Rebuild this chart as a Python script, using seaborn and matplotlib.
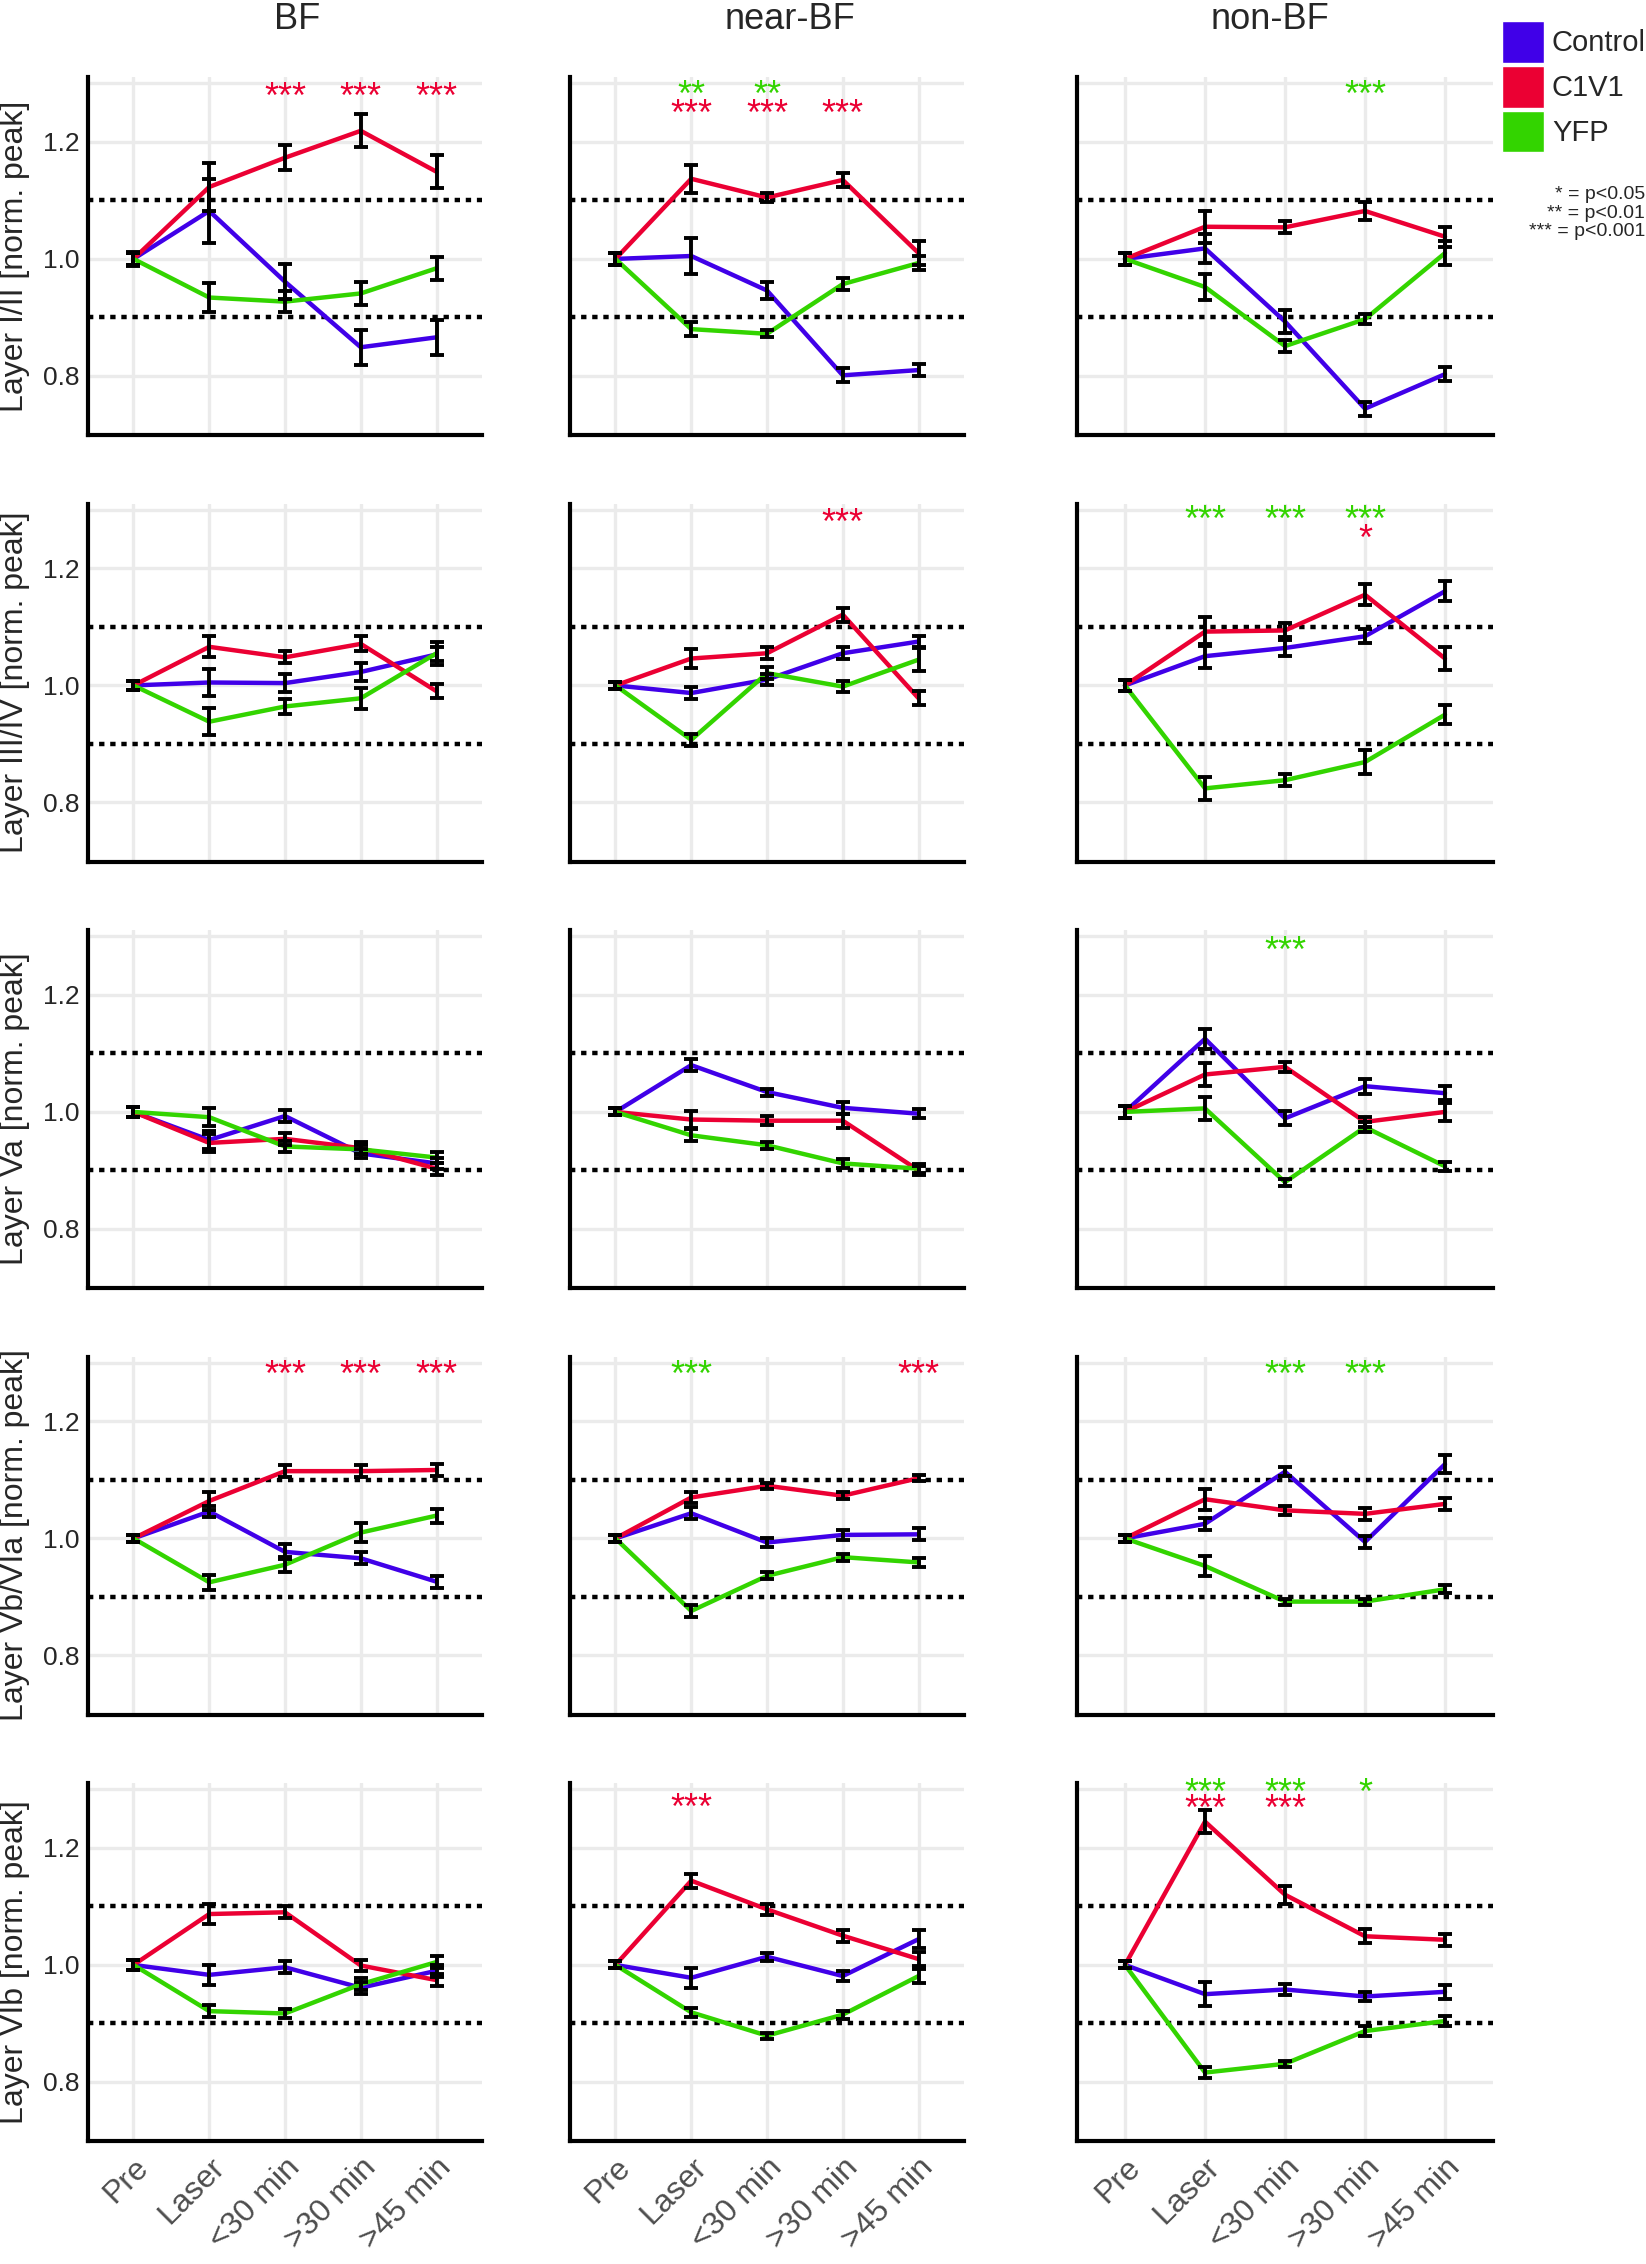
"""Normalized peak responses per cortical layer after laser stimulation (BF / near-BF / non-BF)"""
import matplotlib
matplotlib.use("Agg")
import matplotlib.pyplot as plt
from matplotlib.patches import Patch
import numpy as np
import pandas as pd
import seaborn as sns


TIMEPOINTS = ['Pre', 'Laser', '<30 min', '>30 min', '>45 min']
REGIONS = ['BF', 'near-BF', 'non-BF']
LAYERS = ['Layer I/II [norm. peak]',
          'Layer III/IV [norm. peak]',
          'Layer Va [norm. peak]',
          'Layer Vb/VIa [norm. peak]',
          'Layer VIb [norm. peak]']
GROUPS = ['Control', 'C1V1', 'YFP']
PALETTE = {'Control': '#4000E8', 'C1V1': '#EB0033', 'YFP': '#33D400'}

# [layer][region][timepoint]
CONTROL_MEAN = [
    [[1.0, 1.082, 0.961, 0.849, 0.866], [1.0, 1.005, 0.946, 0.801, 0.810], [1.0, 1.018, 0.893, 0.744, 0.803]],
    [[1.0, 1.005, 1.004, 1.023, 1.053], [1.0, 0.987, 1.010, 1.055, 1.075], [1.0, 1.050, 1.064, 1.084, 1.161]],
    [[1.0, 0.952, 0.993, 0.929, 0.912], [1.0, 1.080, 1.034, 1.007, 0.997], [1.0, 1.125, 0.989, 1.044, 1.032]],
    [[1.0, 1.046, 0.977, 0.966, 0.926], [1.0, 1.043, 0.993, 1.006, 1.007], [1.0, 1.025, 1.114, 0.994, 1.127]],
    [[1.0, 0.983, 0.996, 0.961, 0.990], [1.0, 0.978, 1.014, 0.981, 1.044], [1.0, 0.950, 0.958, 0.946, 0.954]],
]
CONTROL_SEM = [
    [[0.010, 0.055, 0.030, 0.030, 0.030], [0.010, 0.031, 0.014, 0.012, 0.010], [0.010, 0.025, 0.020, 0.012, 0.012]],
    [[0.008, 0.023, 0.015, 0.015, 0.012], [0.006, 0.010, 0.010, 0.010, 0.010], [0.010, 0.020, 0.013, 0.012, 0.017]],
    [[0.008, 0.015, 0.010, 0.008, 0.010], [0.006, 0.010, 0.006, 0.010, 0.008], [0.010, 0.017, 0.012, 0.013, 0.012]],
    [[0.006, 0.010, 0.013, 0.010, 0.010], [0.006, 0.010, 0.007, 0.008, 0.010], [0.006, 0.010, 0.008, 0.010, 0.015]],
    [[0.008, 0.017, 0.010, 0.010, 0.010], [0.006, 0.017, 0.007, 0.008, 0.015], [0.006, 0.020, 0.010, 0.008, 0.012]],
]
C1V1_MEAN = [
    [[1.0, 1.123, 1.173, 1.219, 1.149], [1.0, 1.137, 1.105, 1.135, 1.010], [1.0, 1.055, 1.054, 1.082, 1.038]],
    [[1.0, 1.066, 1.048, 1.071, 0.990], [1.0, 1.046, 1.055, 1.121, 0.978], [1.0, 1.092, 1.094, 1.155, 1.046]],
    [[1.0, 0.947, 0.954, 0.938, 0.903], [1.0, 0.987, 0.985, 0.985, 0.900], [1.0, 1.064, 1.077, 0.983, 1.000]],
    [[1.0, 1.064, 1.115, 1.115, 1.117], [1.0, 1.070, 1.090, 1.073, 1.103], [1.0, 1.067, 1.048, 1.042, 1.059]],
    [[1.0, 1.087, 1.090, 0.999, 0.974], [1.0, 1.144, 1.095, 1.050, 1.010], [1.0, 1.245, 1.120, 1.049, 1.043]],
]
C1V1_SEM = [
    [[0.012, 0.041, 0.021, 0.028, 0.028], [0.010, 0.024, 0.008, 0.012, 0.020], [0.010, 0.027, 0.010, 0.015, 0.017]],
    [[0.008, 0.018, 0.010, 0.013, 0.012], [0.006, 0.017, 0.010, 0.012, 0.012], [0.010, 0.025, 0.012, 0.018, 0.020]],
    [[0.008, 0.015, 0.010, 0.010, 0.010], [0.006, 0.015, 0.008, 0.012, 0.008], [0.010, 0.020, 0.008, 0.008, 0.015]],
    [[0.006, 0.015, 0.010, 0.010, 0.010], [0.006, 0.010, 0.005, 0.006, 0.005], [0.006, 0.018, 0.008, 0.010, 0.010]],
    [[0.008, 0.017, 0.010, 0.010, 0.010], [0.006, 0.012, 0.010, 0.010, 0.012], [0.006, 0.020, 0.015, 0.012, 0.010]],
]
YFP_MEAN = [
    [[1.0, 0.934, 0.927, 0.941, 0.984], [1.0, 0.880, 0.872, 0.957, 0.993], [1.0, 0.952, 0.851, 0.897, 1.010]],
    [[1.0, 0.938, 0.964, 0.978, 1.055], [1.0, 0.907, 1.021, 0.998, 1.044], [1.0, 0.824, 0.838, 0.869, 0.950]],
    [[1.0, 0.991, 0.941, 0.936, 0.922], [1.0, 0.960, 0.943, 0.912, 0.903], [1.0, 1.006, 0.880, 0.974, 0.907]],
    [[1.0, 0.925, 0.955, 1.010, 1.039], [1.0, 0.876, 0.936, 0.968, 0.959], [1.0, 0.953, 0.892, 0.892, 0.913]],
    [[1.0, 0.921, 0.917, 0.967, 1.005], [1.0, 0.919, 0.879, 0.915, 0.981], [1.0, 0.816, 0.831, 0.887, 0.904]],
]
YFP_SEM = [
    [[0.010, 0.025, 0.018, 0.020, 0.020], [0.010, 0.012, 0.006, 0.010, 0.012], [0.010, 0.022, 0.010, 0.008, 0.020]],
    [[0.008, 0.023, 0.013, 0.018, 0.020], [0.006, 0.010, 0.010, 0.010, 0.020], [0.010, 0.020, 0.010, 0.020, 0.016]],
    [[0.008, 0.015, 0.010, 0.008, 0.010], [0.006, 0.010, 0.006, 0.008, 0.008], [0.010, 0.020, 0.006, 0.008, 0.008]],
    [[0.006, 0.013, 0.013, 0.016, 0.012], [0.006, 0.010, 0.006, 0.006, 0.007], [0.006, 0.017, 0.005, 0.005, 0.007]],
    [[0.008, 0.010, 0.007, 0.010, 0.010], [0.006, 0.008, 0.005, 0.007, 0.012], [0.006, 0.010, 0.005, 0.008, 0.008]],
]

# significance marks: (layer, region, timepoint, text, group, y)
STARS = [
    (0, 0, 2, '***', 'C1V1', 1.293), (0, 0, 3, '***', 'C1V1', 1.293), (0, 0, 4, '***', 'C1V1', 1.293),
    (0, 1, 1, '**', 'YFP', 1.297), (0, 1, 2, '**', 'YFP', 1.297),
    (0, 1, 1, '***', 'C1V1', 1.264), (0, 1, 2, '***', 'C1V1', 1.264), (0, 1, 3, '***', 'C1V1', 1.264),
    (0, 2, 3, '***', 'YFP', 1.297),
    (1, 1, 3, '***', 'C1V1', 1.294),
    (1, 2, 1, '***', 'YFP', 1.299), (1, 2, 2, '***', 'YFP', 1.299), (1, 2, 3, '***', 'YFP', 1.299),
    (1, 2, 3, '*', 'C1V1', 1.267),
    (2, 2, 2, '***', 'YFP', 1.292),
    (3, 0, 2, '***', 'C1V1', 1.297), (3, 0, 3, '***', 'C1V1', 1.297), (3, 0, 4, '***', 'C1V1', 1.297),
    (3, 1, 1, '***', 'YFP', 1.297), (3, 1, 4, '***', 'C1V1', 1.297),
    (3, 2, 2, '***', 'YFP', 1.297), (3, 2, 3, '***', 'YFP', 1.297),
    (4, 1, 1, '***', 'C1V1', 1.285), (4, 1, 2, '***', 'YFP', 1.315),
    (4, 2, 1, '***', 'YFP', 1.311), (4, 2, 2, '***', 'YFP', 1.311), (4, 2, 3, '*', 'YFP', 1.311),
    (4, 2, 1, '***', 'C1V1', 1.283), (4, 2, 2, '***', 'C1V1', 1.283),
]

GRID_COLOR = '#EBEBEB'
FIG_W, FIG_H = 1646, 2264
COL_LEFT = [88, 570, 1077]
COL_WIDTH = [394, 394, 416]
ROW_TOP = [77, 503.5, 930, 1356.5, 1783]
ROW_HEIGHT = 358


def panel_frame(layer, region):
    """Long dataframe of means/sem for one panel"""
    means = [CONTROL_MEAN, C1V1_MEAN, YFP_MEAN]
    sems = [CONTROL_SEM, C1V1_SEM, YFP_SEM]
    rows = []
    for grp, m, s in zip(GROUPS, means, sems):
        for i, tp in enumerate(TIMEPOINTS):
            rows.append({'group': grp, 'x': i, 'time': tp,
                         'value': m[layer][region][i], 'sem': s[layer][region][i]})
    return pd.DataFrame(rows)


def plot_panel(ax, layer, region):
    df = panel_frame(layer, region)
    ax.set_axisbelow(True)
    ax.grid(True, color=GRID_COLOR, lw=2.4)
    ax.axhline(1.3, color=GRID_COLOR, lw=2.4, zorder=0)
    for lev in (0.9, 1.1):
        ax.axhline(lev, color='black', lw=3.2, ls=(0, (1.2, 1.3)), zorder=1)
    sns.lineplot(data=df, x='x', y='value', hue='group', hue_order=GROUPS,
                 palette=PALETTE, lw=3.2, legend=False, errorbar=None,
                 sort=False, ax=ax, zorder=3)
    ax.errorbar(df['x'], df['value'], yerr=df['sem'], fmt='none',
                ecolor='black', elinewidth=2.8, capsize=5, capthick=2.8, zorder=4)
    for lay, reg, xi, txt, grp, y in STARS:
        if lay == layer and reg == region:
            ax.annotate(txt, xy=(xi, y), xytext=(0, -15), textcoords='offset points',
                        ha='center', va='baseline', fontsize=26, color=PALETTE[grp])

    ax.set_xlim(-0.6, 4.6)
    ax.set_ylim(0.699, 1.311)
    ax.set_xticks(range(len(TIMEPOINTS)))
    ax.set_yticks([0.8, 1.0, 1.2])
    ax.set_xlabel('')
    ax.set_ylabel('')
    sns.despine(ax=ax)
    for side in ('left', 'bottom'):
        ax.spines[side].set_linewidth(3)
        ax.spines[side].set_color('black')
    ax.tick_params(axis='y', length=4, width=2.5, color='black', labelsize=19, pad=2)
    ax.tick_params(axis='x', length=4, width=2.5, color='#333333', labelsize=23,
                   labelcolor='#4D4D4D', pad=4)

    if region == 0:
        ax.set_yticklabels(['0.8', '1.0', '1.2'])
        ax.set_ylabel(LAYERS[layer], fontsize=23, ha='center', va='center')
        ax.yaxis.set_label_coords((15 - COL_LEFT[0]) / COL_WIDTH[0], 0.5)
    else:
        ax.tick_params(axis='y', labelleft=False)
    if layer == len(LAYERS) - 1:
        ax.set_xticklabels(TIMEPOINTS, rotation=45, ha='right', va='top',
                           rotation_mode='anchor')
    else:
        ax.tick_params(axis='x', labelbottom=False)


def plot_layers():
    sns.set_style('white')
    plt.rcParams['font.family'] = ['Liberation Sans', 'DejaVu Sans']

    fig = plt.figure(figsize=(FIG_W / 100, FIG_H / 100), dpi=100)
    for layer in range(len(LAYERS)):
        for region in range(len(REGIONS)):
            rect = [COL_LEFT[region] / FIG_W,
                    1 - (ROW_TOP[layer] + ROW_HEIGHT) / FIG_H,
                    COL_WIDTH[region] / FIG_W,
                    ROW_HEIGHT / FIG_H]
            ax = fig.add_axes(rect)
            plot_panel(ax, layer, region)

    # column titles
    for xpix, title in zip([297, 790, 1270], REGIONS):
        fig.text(xpix / FIG_W, 1 - 29 / FIG_H, title, ha='center', va='baseline', fontsize=26)

    handles = [Patch(facecolor=PALETTE[g], edgecolor='white', lw=1, label=g) for g in GROUPS]
    fig.legend(handles=handles, loc='upper left', bbox_to_anchor=(1502 / FIG_W, 1 - 21 / FIG_H),
               frameon=False, fontsize=21, handlelength=1.43, handleheight=1.82,
               handletextpad=0.28, labelspacing=0.11, borderpad=0, borderaxespad=0)
    fig.text(1645 / FIG_W, 1 - 213 / FIG_H,
             '* = p<0.05\n** = p<0.01\n*** = p<0.001',
             ha='right', va='center', multialignment='right', fontsize=14, linespacing=1.1)

    fig.savefig('out.png', dpi=100)


if __name__ == '__main__':
    plot_layers()
